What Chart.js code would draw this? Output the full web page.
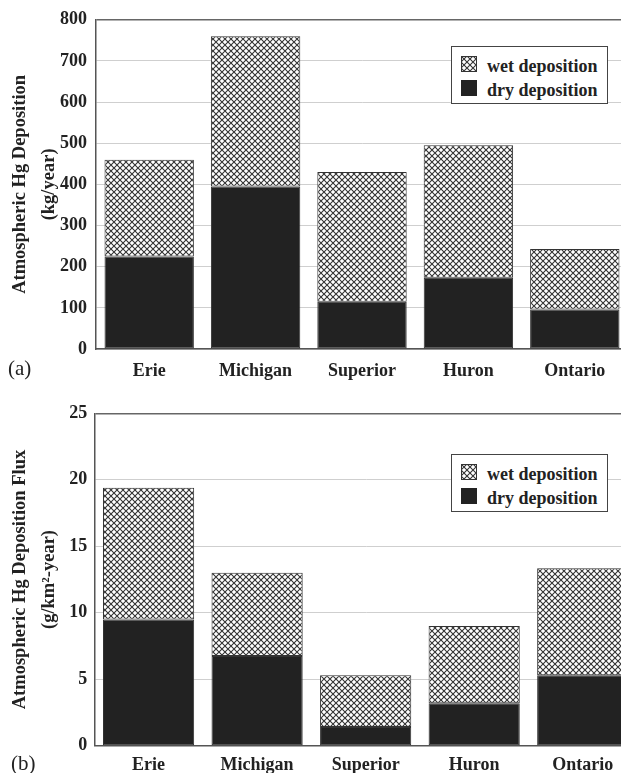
<!DOCTYPE html>
<html>
<head>
<meta charset="utf-8">
<script src="https://cdn.jsdelivr.net/npm/chart.js@4"></script>
<style>
  body { margin: 0; overflow: hidden; background: #fff; width: 621px; height: 773px; position: relative; }
  canvas { position: absolute; left: 0; }
  #chartA { top: 0; }
  #chartB { top: 385px; }
  .legend {
    position: absolute; left: 451px; width: 155px; height: 56px;
    border: 1.5px solid #444; background: #fff;
    font: bold 18px "Liberation Serif", serif; color: #222;
  }
  .legend .row { position: absolute; left: 9px; height: 18px; line-height: 18px; white-space: nowrap; }
  .legend .row canvas { position: absolute; left: 0; top: 0; }
  .legend .row span { position: absolute; left: 26px; top: 1px; }
  .panel { position: absolute; font: 21px "Liberation Serif", serif; color: #222; }
</style>
</head>
<body>
<canvas id="chartA" width="628" height="385"></canvas>
<canvas id="chartB" width="637" height="388"></canvas>

<div class="legend" style="top:46px">
  <div class="row" style="top:9px"><canvas class="swWet" width="16" height="16"></canvas><span>wet deposition</span></div>
  <div class="row" style="top:33px"><canvas class="swDry" width="16" height="16"></canvas><span>dry deposition</span></div>
</div>
<div class="legend" style="top:454px">
  <div class="row" style="top:9px"><canvas class="swWet" width="16" height="16"></canvas><span>wet deposition</span></div>
  <div class="row" style="top:33px"><canvas class="swDry" width="16" height="16"></canvas><span>dry deposition</span></div>
</div>

<div class="panel" style="left:8px; top:356px">(a)</div>
<div class="panel" style="left:11px; top:751px">(b)</div>

<script>
// lakes
const lakes = ['Erie', 'Michigan', 'Superior', 'Huron', 'Ontario'];

// (a) deposition, kg/year
const dryDeposition = [225, 395, 115, 173, 96];
const wetDeposition = [235, 365, 315, 322, 147];

// (b) deposition flux, g/km2-year
const dryFlux = [9.5, 6.75, 1.4, 3.2, 5.3];
const wetFlux = [9.9, 6.25, 3.9, 5.8, 8.05];

const serif = '"Liberation Serif", "Times New Roman", serif';
const dark = '#222';

// crosshatch fill for the wet part
function makeHatch() {
    const c = document.createElement('canvas');
    c.width = 6; c.height = 6;
    const g = c.getContext('2d');
    g.fillStyle = '#fff';
    g.fillRect(0, 0, 6, 6);
    g.strokeStyle = '#333';
    g.lineWidth = 1.1;
    g.beginPath();
    g.moveTo(0, 0); g.lineTo(6, 6);
    g.moveTo(6, 0); g.lineTo(0, 6);
    g.stroke();
    return g.createPattern(c, 'repeat');
}

// legend swatches
document.querySelectorAll('.swWet').forEach(cv => {
    const g = cv.getContext('2d');
    g.fillStyle = makeHatch();
    g.fillRect(0, 0, 16, 16);
    g.strokeStyle = '#333';
    g.strokeRect(0.5, 0.5, 15, 15);
});
document.querySelectorAll('.swDry').forEach(cv => {
    const g = cv.getContext('2d');
    g.fillStyle = dark;
    g.fillRect(0, 0, 16, 16);
});

function createChart(canvasId, dry, wet, yMax, yStep, title, plotTop, axisWidth, xHeight, tickPad, xPad) {
    const ctx = document.getElementById(canvasId).getContext('2d');
    new Chart(ctx, {
        type: 'bar',
        data: {
            labels: lakes,
            datasets: [
                {
                    label: 'dry deposition',
                    data: dry,
                    backgroundColor: dark,
                    borderColor: '#333',
                    borderWidth: 1,
                    borderSkipped: false
                },
                {
                    label: 'wet deposition',
                    data: wet,
                    backgroundColor: makeHatch(),
                    borderColor: '#333',
                    borderWidth: 1,
                    borderSkipped: false
                }
            ]
        },
        options: {
            responsive: false,
            animation: false,
            layout: { padding: { top: plotTop, left: 0, right: 0, bottom: 0 } },
            datasets: { bar: { barPercentage: 0.84, categoryPercentage: 1 } },
            plugins: {
                legend: { display: false },
                tooltip: { enabled: false }
            },
            scales: {
                x: {
                    stacked: true,
                    grid: { display: false },
                    border: { display: true, color: '#555', width: 1.5 },
                    ticks: { color: dark, padding: xPad, font: { family: serif, size: 18, weight: 'bold' } },
                    afterFit: axis => { axis.height = xHeight; }
                },
                y: {
                    stacked: true,
                    min: 0,
                    max: yMax,
                    ticks: { stepSize: yStep, color: dark, padding: tickPad, font: { family: serif, size: 18, weight: 'bold' } },
                    grid: {
                        drawTicks: false,
                        color: c => c.tick && c.tick.value === yMax ? '#666' : '#cfcfcf',
                        lineWidth: c => c.tick && c.tick.value === yMax ? 1.5 : 1
                    },
                    border: { display: true, color: '#555', width: 1.5 },
                    title: {
                        display: true,
                        text: title,
                        color: dark,
                        padding: { top: 5, bottom: 0 },
                        font: { family: serif, size: 18.5, weight: 'bold', lineHeight: 1.6 }
                    },
                    afterFit: axis => { axis.width = axisWidth; }
                }
            }
        }
    });
}

createChart('chartA', dryDeposition, wetDeposition, 800, 100,
    ['Atmospheric Hg Deposition', '(kg/year)'], 17.5, 96, 36, 9, 4);
createChart('chartB', dryFlux, wetFlux, 25, 5,
    ['Atmospheric Hg Deposition Flux', '(g/km\u00b2-year)'], 28.3, 94.3, 27.3, 7, 1);
</script>
</body>
</html>
